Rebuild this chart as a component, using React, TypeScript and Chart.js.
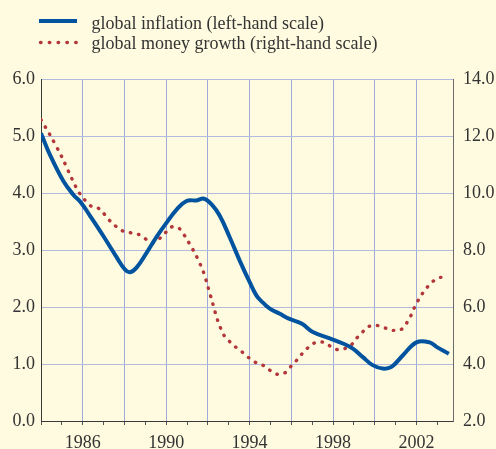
import React, { useEffect, useRef } from "react";
import { Chart, registerables } from "chart.js";

Chart.register(...registerables);

const inflationYears = [1984.0, 1984.43, 1985.07, 1985.55, 1985.92, 1986.35, 1986.98, 1987.63, 1988.02, 1988.26, 1988.58, 1989.06, 1989.54, 1990.02, 1990.5, 1990.98, 1991.46, 1991.81, 1992.18, 1992.57, 1993.05, 1993.53, 1994.01, 1994.33, 1994.63, 1994.97, 1995.45, 1995.85, 1996.49, 1997.03, 1997.84, 1998.47, 1998.95, 1999.43, 1999.9, 2000.38, 2000.8, 2001.34, 2002.0, 2002.63, 2002.96, 2003.55];
const inflationValues = [5.05, 4.67, 4.21, 3.97, 3.83, 3.6, 3.25, 2.87, 2.66, 2.61, 2.69, 2.95, 3.23, 3.48, 3.71, 3.86, 3.87, 3.9, 3.8, 3.6, 3.22, 2.81, 2.43, 2.2, 2.08, 1.97, 1.88, 1.8, 1.71, 1.56, 1.45, 1.36, 1.27, 1.12, 0.98, 0.92, 0.95, 1.15, 1.38, 1.38, 1.3, 1.18];

const moneyYears = [1984.0, 1984.43, 1984.99, 1985.5, 1985.87, 1986.43, 1986.79, 1987.31, 1987.91, 1988.66, 1989.38, 1989.94, 1990.26, 1990.61, 1991.06, 1991.46, 1991.78, 1992.01, 1992.23, 1992.46, 1992.77, 1993.04, 1993.34, 1993.66, 1993.96, 1994.3, 1994.65, 1994.97, 1995.32, 1995.69, 1995.96, 1996.22, 1996.49, 1996.78, 1997.08, 1997.48, 1997.81, 1998.17, 1998.56, 1998.9, 1999.15, 1999.44, 1999.73, 2000.11, 2000.51, 2000.88, 2001.26, 2001.52, 2001.72, 2001.88, 2002.07, 2002.27, 2002.51, 2002.79, 2003.15, 2003.51];
const moneyValues = [12.57, 12.04, 11.28, 10.47, 9.97, 9.52, 9.45, 9.02, 8.67, 8.55, 8.26, 8.59, 8.81, 8.77, 8.29, 7.77, 7.24, 6.69, 6.13, 5.55, 5.01, 4.79, 4.59, 4.41, 4.22, 4.05, 3.95, 3.78, 3.64, 3.69, 3.9, 4.1, 4.34, 4.56, 4.73, 4.77, 4.65, 4.51, 4.54, 4.69, 4.92, 5.14, 5.32, 5.35, 5.26, 5.18, 5.21, 5.43, 5.68, 5.95, 6.22, 6.46, 6.69, 6.9, 7.04, 6.96];

const legendLabels = ["global inflation (left-hand scale)", "global money growth (right-hand scale)"];
const labeledYears = [1986, 1990, 1994, 1998, 2002];

const BG = "#fefbe0";
const BLUE = "#00539e";
const RED = "#b3363a";
const TEXT = "#333333";
const FONT = "'Liberation Serif', 'DejaVu Serif', serif";

const bgPlugin = {
  id: "bgFill",
  beforeDraw(chart: any) {
    const ctx = chart.ctx;
    ctx.save();
    ctx.fillStyle = BG;
    ctx.fillRect(0, 0, chart.width, chart.height);
    ctx.restore();
  },
};

const legendPlugin = {
  id: "customLegend",
  afterDraw(chart: any) {
    const ctx = chart.ctx;
    ctx.save();
    ctx.strokeStyle = BLUE;
    ctx.lineWidth = 4;
    ctx.lineCap = "butt";
    ctx.beginPath();
    ctx.moveTo(39, 21);
    ctx.lineTo(77, 21);
    ctx.stroke();
    ctx.strokeStyle = RED;
    ctx.lineWidth = 3.4;
    ctx.lineCap = "round";
    ctx.setLineDash([0.5, 8.3]);
    ctx.beginPath();
    ctx.moveTo(40.5, 42.5);
    ctx.lineTo(78, 42.5);
    ctx.stroke();
    ctx.setLineDash([]);
    ctx.fillStyle = TEXT;
    ctx.font = `18px ${FONT}`;
    ctx.textBaseline = "alphabetic";
    ctx.textAlign = "left";
    ctx.fillText(legendLabels[0], 91.5, 28.5);
    ctx.fillText(legendLabels[1], 91.5, 48.5);
    ctx.restore();
  },
};

export default function App() {
  const ref = useRef<HTMLCanvasElement | null>(null);
  useEffect(() => {
    if (!ref.current) return;
    const chart = new Chart(ref.current, {
      type: "line",
      data: {
        datasets: [
          {
            label: legendLabels[0],
            data: inflationYears.map((x, i) => ({ x, y: inflationValues[i] })),
            borderColor: BLUE,
            borderWidth: 4,
            pointRadius: 0,
            tension: 0.4,
            yAxisID: "y",
            order: 1,
          },
          {
            label: legendLabels[1],
            data: moneyYears.map((x, i) => ({ x, y: moneyValues[i] })),
            borderColor: RED,
            borderWidth: 3.4,
            borderDash: [0.5, 7.8],
            borderCapStyle: "round",
            pointRadius: 0,
            tension: 0.3,
            yAxisID: "y1",
            order: 2,
          },
        ],
      },
      options: {
        animation: false,
        responsive: true,
        maintainAspectRatio: false,
        layout: { padding: { top: 79, left: 0, right: 0, bottom: 0 } },
        plugins: {
          legend: { display: false },
          tooltip: { enabled: false },
        },
        scales: {
          x: {
            type: "linear",
            min: 1984,
            max: 2003.75,
            afterFit: (s: any) => {
              s.height = 28;
            },
            grid: {
              color: (c: any) => (c.tick && Math.round(c.tick.value) % 2 === 0 ? "#9eabdc" : "rgba(0,0,0,0)"),
              tickColor: "#555555",
              tickLength: 4,
              lineWidth: 1,
              drawTicks: true,
            },
            border: { color: "#3a3a3a", width: 1 },
            ticks: {
              stepSize: 1,
              includeBounds: false,
              autoSkip: false,
              maxRotation: 0,
              padding: 7,
              color: TEXT,
              font: { family: FONT, size: 18 },
              callback: (v: any) => (labeledYears.includes(Math.round(Number(v))) ? String(Math.round(Number(v))) : ""),
            },
          },
          y: {
            type: "linear",
            position: "left",
            min: 0,
            max: 6,
            afterFit: (s: any) => {
              s.width = 41;
            },
            grid: { color: "#b2bbdc", lineWidth: 1, drawTicks: false },
            border: { color: "#3a3a3a", width: 1 },
            ticks: {
              stepSize: 1,
              padding: 6,
              color: TEXT,
              font: { family: FONT, size: 18 },
              callback: (v: any) => Number(v).toFixed(1),
            },
          },
          y1: {
            type: "linear",
            position: "right",
            min: 2,
            max: 14,
            afterFit: (s: any) => {
              s.width = 43;
            },
            grid: { display: false, drawTicks: false },
            border: { color: "#6a6a6a", width: 1 },
            ticks: {
              stepSize: 2,
              padding: 10,
              color: TEXT,
              font: { family: FONT, size: 18 },
              callback: (v: any) => Number(v).toFixed(1),
            },
          },
        },
      },
      plugins: [bgPlugin, legendPlugin],
    });
    return () => chart.destroy();
  }, []);
  return (
    <div style={{ position: "absolute", left: 0, top: 0, width: 496, height: 449 }}>
      <canvas ref={ref} />
    </div>
  );
}
